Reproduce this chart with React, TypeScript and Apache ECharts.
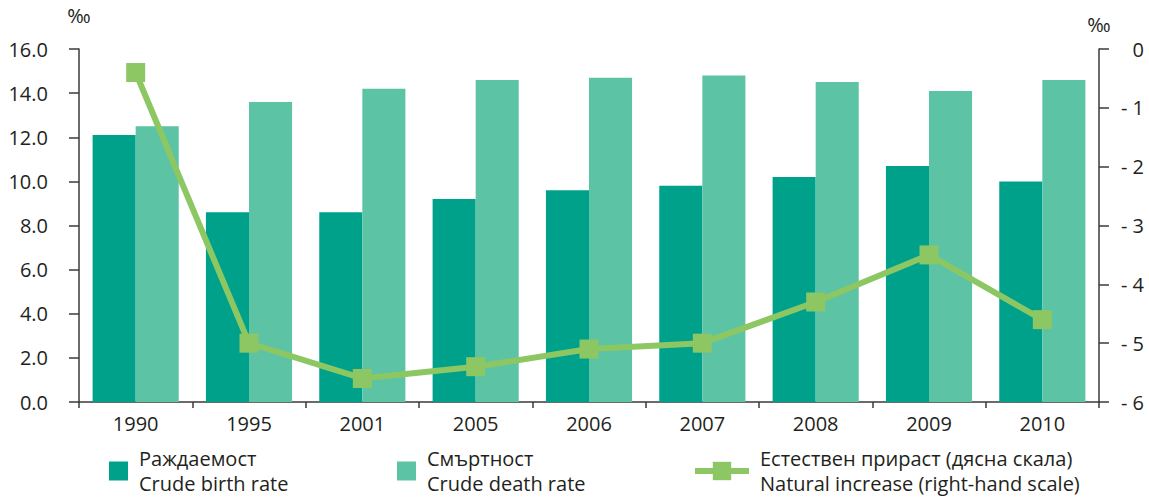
import React, { useEffect, useRef } from "react";
import * as echarts from "echarts";

const categories = ["1990", "1995", "2001", "2005", "2006", "2007", "2008", "2009", "2010"];
const birthRate = [12.1, 8.6, 8.6, 9.2, 9.6, 9.8, 10.2, 10.7, 10.0];
const deathRate = [12.5, 13.6, 14.2, 14.6, 14.7, 14.8, 14.5, 14.1, 14.6];
const naturalIncrease = [-0.4, -5.0, -5.6, -5.4, -5.1, -5.0, -4.3, -3.5, -4.6];

const birthName = "Раждаемост\nCrude birth rate";
const deathName = "Смъртност\nCrude death rate";
const naturalName = "Естествен прираст (дясна скала)\nNatural increase (right-hand scale)";

const FONT = "'Open Sans', 'Noto Sans', sans-serif";
const FS = 20;
const TEXT = "#231f20";
const AXIS = "#3a3a3a";
const C_BIRTH = "#00a18b";
const C_DEATH = "#5cc3a5";
const C_LINE = "#8cc763";

export default function App() {
  const ref = useRef<HTMLDivElement>(null);
  useEffect(() => {
    if (!ref.current) return;
    const chart = echarts.init(ref.current, undefined, { renderer: "svg" });
    const legendText = {
      fontFamily: FONT,
      fontSize: FS,
      color: TEXT,
      lineHeight: 25,
      padding: [0, 0, 0, 6],
    };
    chart.setOption({
      animation: false,
      textStyle: { fontFamily: FONT, color: TEXT },
      grid: { left: 79, right: 50, top: 49, bottom: 95, containLabel: false },
      legend: [
        {
          data: [birthName],
          left: 109,
          top: 446,
          padding: 0,
          icon: "rect",
          itemWidth: 19,
          itemHeight: 19,
          textStyle: legendText,
          selectedMode: false,
        },
        {
          data: [deathName],
          left: 397,
          top: 446,
          padding: 0,
          icon: "rect",
          itemWidth: 19,
          itemHeight: 19,
          textStyle: legendText,
          selectedMode: false,
        },
        {
          data: [naturalName],
          left: 692,
          top: 446,
          padding: 0,
          itemWidth: 54,
          itemHeight: 23,
          lineStyle: { width: 6 },
          textStyle: legendText,
          selectedMode: false,
        },
      ],
      xAxis: {
        type: "category",
        data: categories,
        boundaryGap: true,
        axisLine: { lineStyle: { color: AXIS, width: 1.5 } },
        axisTick: { show: true, length: 6, lineStyle: { color: AXIS, width: 1.5 } },
        axisLabel: { fontFamily: FONT, fontSize: FS, color: TEXT, margin: 11 },
      },
      yAxis: [
        {
          type: "value",
          min: 0,
          max: 16,
          interval: 2,
          name: "‰",
          nameLocation: "end",
          nameGap: 24,
          nameTextStyle: { fontFamily: FONT, fontSize: FS, color: TEXT, align: "center" },
          axisLine: { show: true, lineStyle: { color: AXIS, width: 1.5 } },
          axisTick: { show: true, length: 10, lineStyle: { color: AXIS, width: 1.5 } },
          splitLine: { show: false },
          axisLabel: {
            fontFamily: FONT,
            fontSize: FS,
            color: TEXT,
            margin: 31,
            formatter: (v: number) => v.toFixed(1),
          },
        },
        {
          type: "value",
          min: -6,
          max: 0,
          interval: 1,
          position: "right",
          name: "‰",
          nameLocation: "end",
          nameGap: 15,
          nameTextStyle: { fontFamily: FONT, fontSize: FS, color: TEXT, align: "center" },
          axisLine: { show: true, lineStyle: { color: AXIS, width: 1.5 } },
          axisTick: { show: true, length: 10, lineStyle: { color: AXIS, width: 1.5 } },
          splitLine: { show: false },
          axisLabel: {
            fontFamily: FONT,
            fontSize: FS,
            color: TEXT,
            margin: 45,
            align: "right",
            formatter: (v: number) => (v === 0 ? "0" : "- " + Math.abs(v)),
          },
        },
      ],
      series: [
        {
          name: birthName,
          type: "bar",
          data: birthRate,
          barGap: "0%",
          barCategoryGap: "24%",
          itemStyle: { color: C_BIRTH },
        },
        {
          name: deathName,
          type: "bar",
          data: deathRate,
          barGap: "0%",
          barCategoryGap: "24%",
          itemStyle: { color: C_DEATH },
        },
        {
          name: naturalName,
          type: "line",
          yAxisIndex: 1,
          data: naturalIncrease,
          symbol: "rect",
          symbolSize: 19,
          lineStyle: { color: C_LINE, width: 6 },
          itemStyle: { color: C_LINE },
          z: 5,
        },
      ],
    });
    return () => chart.dispose();
  }, []);
  return <div ref={ref} style={{ width: 1149, height: 497, position: "absolute", left: 0, top: 0 }} />;
}
